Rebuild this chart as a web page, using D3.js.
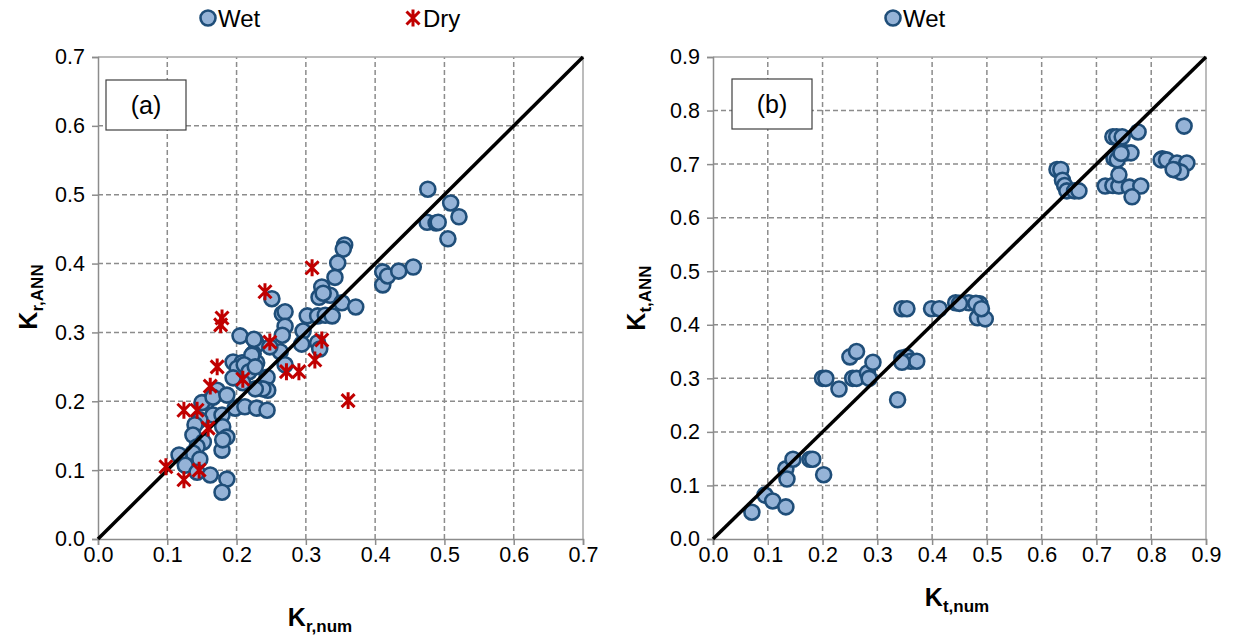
<!DOCTYPE html>
<html>
<head>
<meta charset="utf-8">
<script src="https://cdn.jsdelivr.net/npm/d3@7"></script>
<style>
  body { margin: 0; background: #fff; }
  text { font-family: "Liberation Sans", Arial, sans-serif; }
</style>
</head>
<body>
<svg width="1233" height="644"></svg>
<script>
// panel (a): K_r
let wetA = [
  [0.476,0.508],[0.509,0.488],[0.521,0.468],[0.475,0.460],[0.488,0.459],[0.491,0.460],[0.505,0.436],
  [0.411,0.369],[0.411,0.388],[0.418,0.382],[0.434,0.389],[0.455,0.395],
  [0.356,0.427],[0.354,0.421],[0.346,0.401],[0.342,0.380],[0.323,0.366],[0.319,0.351],[0.335,0.354],[0.325,0.357],[0.352,0.343],[0.372,0.337],
  [0.251,0.349],[0.266,0.327],[0.270,0.330],[0.270,0.309],[0.266,0.296],
  [0.302,0.324],[0.317,0.324],[0.328,0.325],[0.338,0.324],[0.296,0.302],[0.294,0.283],[0.317,0.285],[0.320,0.276],
  [0.205,0.295],[0.227,0.288],[0.229,0.282],[0.224,0.269],[0.263,0.272],[0.195,0.257],[0.208,0.256],[0.229,0.256],[0.270,0.253],
  [0.225,0.290],[0.222,0.267],[0.248,0.279],[0.201,0.248],[0.211,0.253],[0.218,0.243],[0.227,0.250],[0.244,0.235],[0.245,0.216],
  [0.238,0.218],[0.227,0.218],[0.209,0.227],[0.195,0.234],[0.172,0.216],[0.157,0.199],[0.150,0.198],[0.166,0.206],[0.186,0.209],
  [0.198,0.190],[0.212,0.192],[0.229,0.190],[0.244,0.187],[0.166,0.180],[0.179,0.180],[0.180,0.163],[0.186,0.148],[0.147,0.173],
  [0.140,0.166],[0.137,0.151],[0.152,0.141],[0.143,0.134],[0.137,0.125],[0.117,0.122],[0.126,0.107],[0.147,0.116],[0.143,0.097],
  [0.162,0.093],[0.179,0.129],[0.180,0.144],[0.186,0.087],[0.179,0.068]
]
let dryA = [
  [0.241,0.359],[0.309,0.394],[0.248,0.286],[0.323,0.289],[0.313,0.260],[0.272,0.243],[0.290,0.243],[0.361,0.201],
  [0.179,0.321],[0.177,0.311],[0.172,0.250],[0.162,0.222],[0.209,0.232],[0.124,0.187],[0.143,0.187],[0.159,0.161],
  [0.098,0.105],[0.124,0.086],[0.146,0.100]
]
// panel (b): K_t
let wetB = [
  [0.071,0.050],[0.095,0.082],[0.109,0.071],[0.133,0.060],[0.133,0.131],[0.135,0.112],[0.146,0.149],[0.177,0.149],[0.182,0.149],[0.202,0.120],
  [0.200,0.300],[0.206,0.300],[0.230,0.280],[0.250,0.340],[0.262,0.350],[0.255,0.300],[0.262,0.300],[0.282,0.310],[0.285,0.300],[0.292,0.330],
  [0.337,0.260],[0.345,0.338],[0.354,0.340],[0.361,0.332],[0.372,0.332],[0.345,0.330],
  [0.345,0.430],[0.354,0.430],[0.399,0.430],[0.413,0.430],[0.443,0.441],[0.467,0.441],[0.487,0.439],[0.483,0.413],[0.497,0.411],
  [0.450,0.440],[0.480,0.440],[0.490,0.430],
  [0.628,0.690],[0.635,0.690],[0.638,0.670],[0.642,0.660],[0.646,0.650],[0.660,0.650],[0.668,0.650],
  [0.716,0.659],[0.730,0.660],[0.741,0.659],[0.760,0.657],[0.781,0.659],[0.765,0.639],[0.741,0.680],[0.732,0.711],[0.738,0.708],
  [0.754,0.721],[0.763,0.721],[0.745,0.720],[0.730,0.751],[0.737,0.751],[0.747,0.751],[0.776,0.760],[0.860,0.771],
  [0.820,0.710],[0.818,0.708],[0.828,0.708],[0.847,0.702],[0.865,0.702],[0.845,0.689],[0.854,0.685],[0.840,0.690]
]
let ticksA = [0, 0.1, 0.2, 0.3, 0.4, 0.5, 0.6, 0.7]
let ticksB = [0, 0.1, 0.2, 0.3, 0.4, 0.5, 0.6, 0.7, 0.8, 0.9]

let wetFill = '#95b3d7'
let wetStroke = '#1f4e79'
let dryColor = '#c00000'
let gridColor = '#8c8c8c'

let svg = d3.select('svg')

function star(g, size) {
  let s = size
  g.append('path')
    .attr('d', `M${-s},${-s}L${s},${s}M${-s},${s}L${s},${-s}M0,${-s * 1.3}L0,${s * 1.3}`)
    .attr('stroke', dryColor)
    .attr('stroke-width', 3)
    .attr('fill', 'none')
}

function drawPanel(p) {
  let x = d3.scaleLinear().domain([0, p.max]).range([p.left, p.right])
  let y = d3.scaleLinear().domain([0, p.max]).range([539, 57])
  let g = svg.append('g')

  // grid
  g.selectAll('.vg').data(p.ticks.slice(1, -1)).enter().append('line')
    .attr('x1', d => x(d)).attr('x2', d => x(d))
    .attr('y1', y(0)).attr('y2', y(p.max))
    .attr('stroke', gridColor).attr('stroke-width', 1.5).attr('stroke-dasharray', '5,3')
  g.selectAll('.hg').data(p.ticks.slice(1, -1)).enter().append('line')
    .attr('x1', x(0)).attr('x2', x(p.max))
    .attr('y1', d => y(d)).attr('y2', d => y(d))
    .attr('stroke', gridColor).attr('stroke-width', 1.5).attr('stroke-dasharray', '5,3')

  // frame top/right
  g.append('path')
    .attr('d', `M${x(0)},${y(p.max)}H${x(p.max)}V${y(0)}`)
    .attr('stroke', '#a6a6a6').attr('stroke-width', 1.5).attr('fill', 'none')

  // axes
  let xAxis = d3.axisBottom(x).tickValues(p.ticks).tickFormat(d3.format('.1f')).tickSize(6)
  let yAxis = d3.axisLeft(y).tickValues(p.ticks).tickFormat(d3.format('.1f')).tickSize(6)
  let gx = g.append('g').attr('transform', `translate(0,${y(0)})`).call(xAxis)
  let gy = g.append('g').attr('transform', `translate(${x(0)},0)`).call(yAxis)
  ;[gx, gy].forEach(a => {
    a.select('.domain').attr('stroke', '#8c8c8c').attr('stroke-width', 1.5)
    a.selectAll('.tick line').attr('stroke', '#8c8c8c').attr('stroke-width', 1.5)
    a.selectAll('.tick text').attr('font-size', 21.5).attr('fill', '#000')
      .style('font-family', '"Liberation Sans", Arial, sans-serif')
  })
  gx.selectAll('.tick text').attr('y', 8)
  gy.selectAll('.tick text').attr('x', -13)

  // points
  g.selectAll('.wet').data(p.wet).enter().append('circle')
    .attr('cx', d => x(d[0])).attr('cy', d => y(d[1])).attr('r', 7.5)
    .attr('fill', wetFill).attr('stroke', wetStroke).attr('stroke-width', 2.6)

  // 1:1 line
  g.append('line')
    .attr('x1', x(0)).attr('y1', y(0)).attr('x2', x(p.max)).attr('y2', y(p.max))
    .attr('stroke', '#000').attr('stroke-width', 3.5)

  if (p.dry) {
    p.dry.forEach(d => {
      let s = g.append('g').attr('transform', `translate(${x(d[0])},${y(d[1])})`)
      star(s, 6.5)
    })
  }

  // label box
  g.append('rect')
    .attr('x', p.box[0]).attr('y', p.box[1]).attr('width', 80).attr('height', 50)
    .attr('fill', '#fff').attr('stroke', '#404040').attr('stroke-width', 1.2)
  g.append('text')
    .attr('x', p.box[0] + 40).attr('y', p.box[1] + 34)
    .attr('text-anchor', 'middle').attr('font-size', 25)
    .text(p.tag)

  // axis titles
  let xt = g.append('text')
    .attr('x', p.xTitle[0]).attr('y', p.xTitle[1])
    .attr('text-anchor', 'middle').attr('font-weight', 'bold').attr('font-size', 25)
  xt.append('tspan').text('K')
  xt.append('tspan').attr('font-size', 17).attr('dy', 6).text(p.sub + ',num')

  let yt = g.append('text')
    .attr('transform', `translate(${p.yTitle[0]},${p.yTitle[1]}) rotate(-90)`)
    .attr('text-anchor', 'middle').attr('font-weight', 'bold').attr('font-size', 25)
  yt.append('tspan').text('K')
  yt.append('tspan').attr('font-size', 17).attr('dy', 6).text(p.sub + ',ANN')
}

drawPanel({
  max: 0.7, ticks: ticksA, left: 98, right: 583,
  wet: wetA, dry: dryA, box: [106, 80], tag: '(a)', sub: 'r',
  xTitle: [320, 626], yTitle: [37, 297]
})
drawPanel({
  max: 0.9, ticks: ticksB, left: 713, right: 1206,
  wet: wetB, dry: null, box: [732, 79], tag: '(b)', sub: 't',
  xTitle: [957, 606], yTitle: [645, 298]
})

// legends
function legendWet(cx) {
  svg.append('circle').attr('cx', cx).attr('cy', 18).attr('r', 7.5)
    .attr('fill', wetFill).attr('stroke', wetStroke).attr('stroke-width', 2.6)
  svg.append('text').attr('x', cx + 10).attr('y', 27).attr('font-size', 24).text('Wet')
}
legendWet(208)
legendWet(893)
let lg = svg.append('g').attr('transform', 'translate(413,18)')
star(lg, 6.5)
svg.append('text').attr('x', 423).attr('y', 27).attr('font-size', 24).text('Dry')
</script>
</body>
</html>
